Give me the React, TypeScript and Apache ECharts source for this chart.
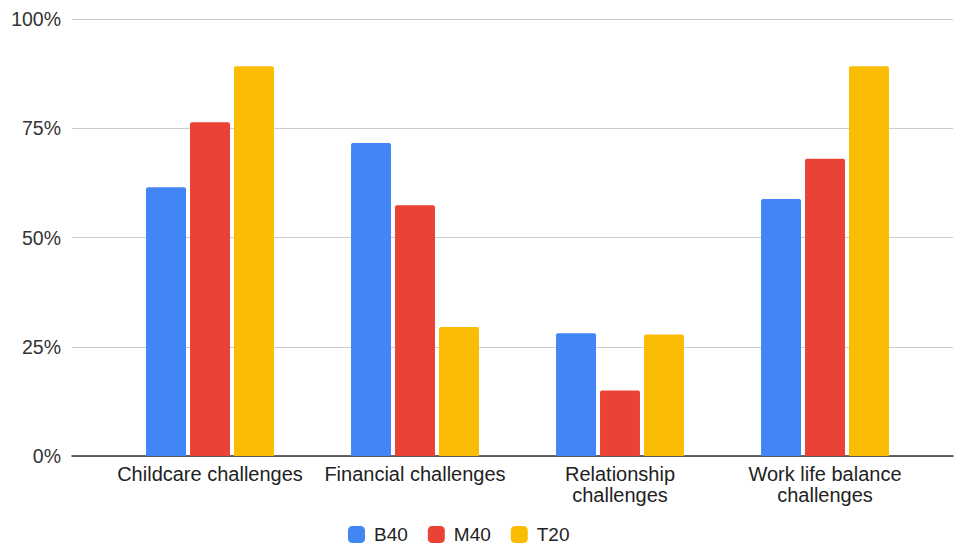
import React, { useEffect, useRef } from "react";
import * as echarts from "echarts";

const categories = [
  "Childcare challenges",
  "Financial challenges",
  "Relationship\nchallenges",
  "Work life balance\nchallenges",
];
const b40 = [61.5, 71.6, 28.1, 58.8];
const m40 = [76.4, 57.4, 15.0, 68.0];
const t20 = [89.2, 29.5, 27.8, 89.2];
const seriesNames = ["B40", "M40", "T20"];
const colors = ["#4285F4", "#EA4335", "#FBBC04"];

const FONT = "'Liberation Sans', Arial, sans-serif";

export default function App() {
  const ref = useRef<HTMLDivElement>(null);

  useEffect(() => {
    if (!ref.current) return;
    const chart = echarts.init(ref.current, undefined, { renderer: "svg" });
    const data = [b40, m40, t20];
    chart.setOption({
      animation: false,
      textStyle: { fontFamily: FONT },
      legend: {
        left: 348,
        top: 525,
        padding: 0,
        itemWidth: 17,
        itemHeight: 17,
        itemGap: 20,
        icon: "roundRect",
        textStyle: { fontSize: 19, color: "#222", fontFamily: FONT, padding: [0, 0, 0, 4] },
        data: seriesNames,
      },
      grid: [
        { left: 72, right: 1, top: 19, bottom: 88 },
        { left: 107.5, right: 26.5, top: 19, bottom: 88 },
      ],
      xAxis: [
        {
          type: "category",
          gridIndex: 0,
          data: [""],
          axisLine: { show: true, lineStyle: { color: "#333", width: 1.5 } },
          axisTick: { show: false },
          axisLabel: { show: false },
        },
        {
          type: "category",
          gridIndex: 1,
          data: categories,
          axisLine: { show: false },
          axisTick: { show: false },
          axisLabel: {
            margin: 7,
            fontSize: 20,
            color: "#222",
            lineHeight: 21,
            fontFamily: FONT,
            interval: 0,
          },
        },
      ],
      yAxis: [
        {
          type: "value",
          gridIndex: 0,
          min: 0,
          max: 100,
          interval: 25,
          axisLine: { show: false },
          axisTick: { show: false },
          axisLabel: {
            formatter: "{value}%",
            fontSize: 19.5,
            color: "#333",
            margin: 11,
            fontFamily: FONT,
          },
          splitLine: { lineStyle: { color: "#cccccc", width: 1 } },
        },
        {
          type: "value",
          gridIndex: 1,
          min: 0,
          max: 100,
          interval: 25,
          show: false,
          splitLine: { show: false },
        },
      ],
      series: seriesNames.map((name, i) => ({
        name,
        type: "bar",
        xAxisIndex: 1,
        yAxisIndex: 1,
        data: data[i],
        barGap: "10%",
        barCategoryGap: "37.6%",
        itemStyle: { color: colors[i], borderRadius: [2, 2, 0, 0] },
      })),
    });
    return () => chart.dispose();
  }, []);

  return (
    <div
      ref={ref}
      style={{ position: "absolute", left: 0, top: 0, width: 954, height: 544, background: "#fff" }}
    />
  );
}
